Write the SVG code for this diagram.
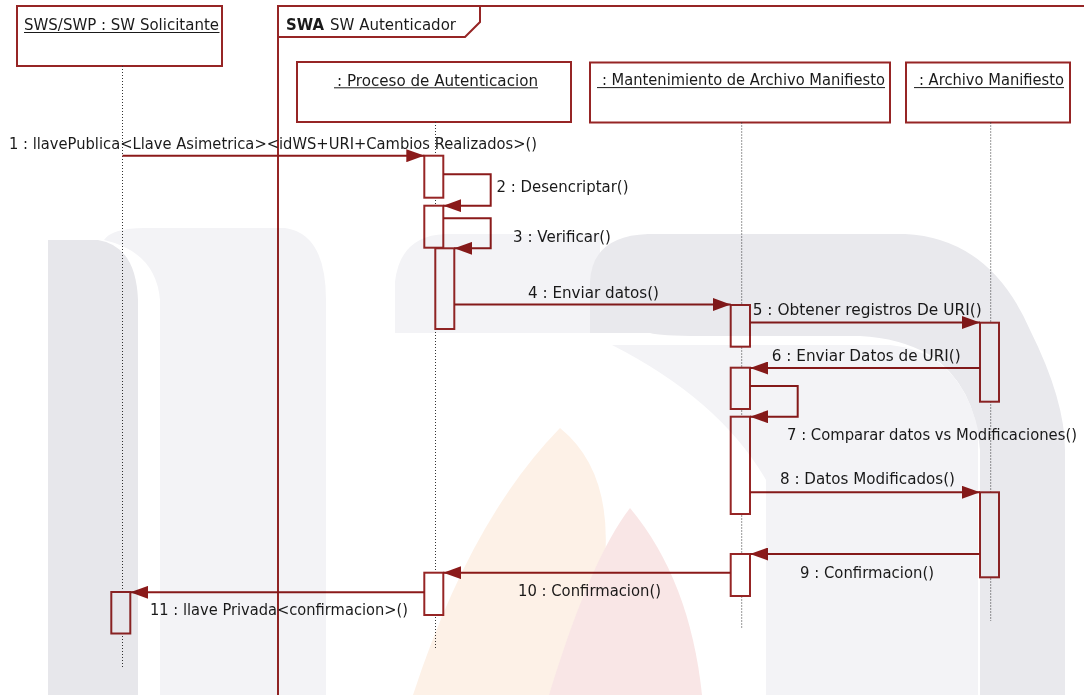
<svg xmlns="http://www.w3.org/2000/svg" width="1084" height="695" viewBox="0 0 1084 695">
  <style>
    .head { fill: #ffffff; stroke: #962525; stroke-width: 2; }
    .act { fill: #ffffff; stroke: #962525; stroke-width: 2; }
    .life { stroke: #333333; stroke-width: 1; stroke-dasharray: 1 2; fill: none; }
    .frame { fill: none; stroke: #962525; stroke-width: 2; }
    .msg { fill: none; stroke: #8b1a1a; stroke-width: 2; marker-end: url(#arrow); }
    .ul { stroke: #1a1a1a; stroke-width: 1; }
    text { font-family: "DejaVu Sans", "Liberation Sans", sans-serif; font-size: 16.5px; fill: #1a1a1a; }
    .bold { font-weight: bold; }
    .wm { mix-blend-mode: multiply; }
  </style>
  <defs>
    <marker id="arrow" viewBox="0 0 18 13" refX="18" refY="6.5" markerWidth="18" markerHeight="13" markerUnits="userSpaceOnUse" orient="auto">
      <path d="M0,0 L18,6.5 L0,13 Z" fill="#8b1a1a"/>
    </marker>
  </defs>

  <rect x="0" y="0" width="1084" height="695" fill="#ffffff"/>

  <!-- combined fragment frame -->
  <g id="frame-swa">
    <path class="frame" d="M278,695 V6 H1086"/>
    <path class="frame" d="M278,37 H465 L480,22 V6"/>
    <text x="286" y="29.5" class="bold" textLength="38" lengthAdjust="spacingAndGlyphs">SWA</text>
    <text x="330" y="29.5" textLength="126" lengthAdjust="spacingAndGlyphs">SW Autenticador</text>
  </g>

  <!-- lifeline: SW Solicitante -->
  <g id="ll-solicitante">
    <rect class="head" x="17" y="6" width="205" height="60"/>
    <text x="24" y="30" textLength="195" lengthAdjust="spacingAndGlyphs">SWS/SWP : SW Solicitante</text>
    <line class="ul" x1="24" y1="32.5" x2="219.5" y2="32.5"/>
    <line class="life" x1="122.5" y1="66" x2="122.5" y2="667"/>
    <rect class="act" x="111.3" y="592" width="19" height="41.5"/>
  </g>

  <!-- lifeline: Proceso de Autenticacion -->
  <g id="ll-proceso">
    <rect class="head" x="297" y="62" width="274" height="60"/>
    <text x="337" y="85.5" textLength="201" lengthAdjust="spacingAndGlyphs">: Proceso de Autenticacion</text>
    <line class="ul" x1="334" y1="87.8" x2="538" y2="87.8"/>
    <line class="life" x1="435.5" y1="122" x2="435.5" y2="650"/>
    <rect class="act" x="424.3" y="155.7" width="19" height="42"/>
    <rect class="act" x="424.3" y="205.7" width="19" height="42"/>
    <rect class="act" x="435.3" y="248.3" width="19" height="80.7"/>
    <rect class="act" x="424.3" y="572.7" width="19" height="42.3"/>
  </g>

  <!-- lifeline: Mantenimiento de Archivo Manifiesto -->
  <g id="ll-mantenimiento">
    <rect class="head" x="590" y="62.5" width="300" height="60"/>
    <text x="602" y="85.3" textLength="283" lengthAdjust="spacingAndGlyphs">: Mantenimiento de Archivo Manifiesto</text>
    <line class="ul" x1="597" y1="87.6" x2="885" y2="87.6"/>
    <line class="life" x1="741.7" y1="122.5" x2="741.7" y2="628"/>
    <rect class="act" x="730.7" y="305" width="19.3" height="41.7"/>
    <rect class="act" x="730.7" y="367.7" width="19.3" height="41.3"/>
    <rect class="act" x="730.7" y="416.7" width="19.3" height="97.3"/>
    <rect class="act" x="730.7" y="554" width="19.3" height="42"/>
  </g>

  <!-- lifeline: Archivo Manifiesto -->
  <g id="ll-archivo">
    <rect class="head" x="906" y="62.5" width="164" height="60"/>
    <text x="919" y="85.3" textLength="145" lengthAdjust="spacingAndGlyphs">: Archivo Manifiesto</text>
    <line class="ul" x1="914" y1="87.6" x2="1064" y2="87.6"/>
    <line class="life" x1="990.7" y1="122.5" x2="990.7" y2="621"/>
    <rect class="act" x="980" y="322.7" width="19" height="79"/>
    <rect class="act" x="980" y="492.3" width="19" height="85"/>
  </g>

  <!-- messages -->
  <g id="connectors">
    <path class="msg" d="M122.5,155.7 H424.3"/>
    <path class="msg" d="M443.3,174.3 H490.7 V205.7 H443.3"/>
    <path class="msg" d="M443.3,218.3 H490.7 V248.3 H454.3"/>
    <path class="msg" d="M454.3,304.5 H730.7"/>
    <path class="msg" d="M750,322.5 H980"/>
    <path class="msg" d="M980,368 H750"/>
    <path class="msg" d="M750,386 H797.7 V416.7 H750"/>
    <path class="msg" d="M750,492.3 H980"/>
    <path class="msg" d="M980,554 H750"/>
    <path class="msg" d="M730.7,572.7 H443.3"/>
    <path class="msg" d="M424.3,592.3 H130.3"/>

    <text x="9" y="149" textLength="528" lengthAdjust="spacingAndGlyphs">1 : llavePublica&lt;Llave Asimetrica&gt;&lt;idWS+URI+Cambios Realizados&gt;()</text>
    <text x="496.5" y="192.3" textLength="132" lengthAdjust="spacingAndGlyphs">2 : Desencriptar()</text>
    <text x="513" y="241.7" textLength="98" lengthAdjust="spacingAndGlyphs">3 : Verificar()</text>
    <text x="528" y="298" textLength="131" lengthAdjust="spacingAndGlyphs">4 : Enviar datos()</text>
    <text x="752.7" y="315" textLength="229" lengthAdjust="spacingAndGlyphs">5 : Obtener registros De URI()</text>
    <text x="771.7" y="360.5" textLength="189" lengthAdjust="spacingAndGlyphs">6 : Enviar Datos de URI()</text>
    <text x="787" y="440" textLength="290" lengthAdjust="spacingAndGlyphs">7 : Comparar datos vs Modificaciones()</text>
    <text x="780" y="484" textLength="175" lengthAdjust="spacingAndGlyphs">8 : Datos Modificados()</text>
    <text x="800" y="577.5" textLength="134" lengthAdjust="spacingAndGlyphs">9 : Confirmacion()</text>
    <text x="518" y="595.5" textLength="143" lengthAdjust="spacingAndGlyphs">10 : Confirmacion()</text>
    <text x="150" y="615" textLength="258" lengthAdjust="spacingAndGlyphs">11 : llave Privada&lt;confirmacion&gt;()</text>
  </g>

  <!-- faint background emblem, multiplied over the drawing -->
  <g class="wm" id="emblem">
    <path fill="#f3f3f6" d="M104,240 Q112,228 145,228 H285 Q326,234 326,300 V695 H160 V300 Q156,252 104,240 Z"/>
    <path fill="#e7e7eb" d="M48,695 V240 H98 Q136,246 138,300 V695 Z"/>
    <path fill="#f3f3f6" d="M395,333 V282 Q400,236 445,234 H600 V333 Z"/>
    <path fill="#e9e9ed" d="M590,333 V282 Q592,236 648,234 H905 Q990,238 1030,330 Q1065,400 1065,450 V695 H980 V450 Q975,385 930,355 Q900,338 860,336 H700 Q660,336 650,333 Z"/>
    <path fill="#f3f3f6" d="M612,345 H890 Q960,352 978,430 V695 H766 V480 Q720,400 612,345 Z"/>
    <path fill="#fdf1e7" d="M560,428 Q612,470 605,560 L590,695 H413 Q470,520 560,428 Z"/>
    <path fill="#f9e6e6" d="M630,508 Q690,580 702,695 H549 Q590,560 630,508 Z"/>
  </g>
</svg>
